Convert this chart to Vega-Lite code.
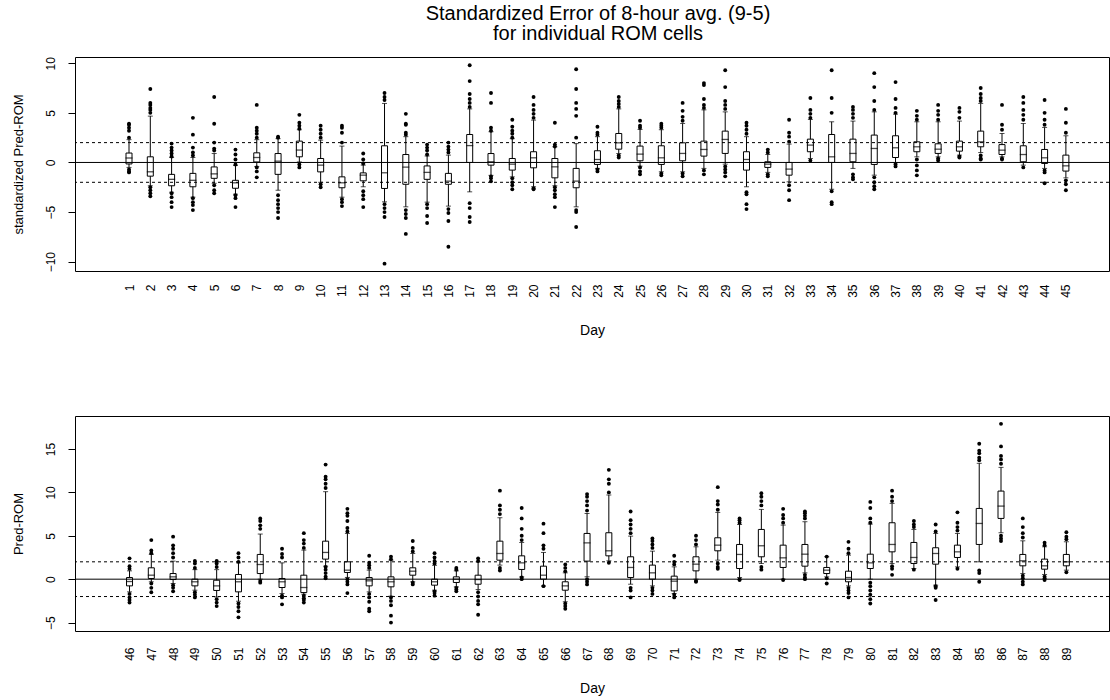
{
"$schema": "https://vega.github.io/schema/vega-lite/v6.json",
"background": "white",
"padding": {"left": 11, "top": 3, "right": 0, "bottom": 0},
"spacing": 77,
"config": {
  "font": "Liberation Sans",
  "view": {"stroke": "#000", "strokeWidth": 1},
  "axis": {"labelColor": "#000", "titleColor": "#000", "tickColor": "#000", "labelFont": "Liberation Sans", "titleFont": "Liberation Sans", "titleFontWeight": "normal", "grid": false, "domain": false, "labelOverlap": false, "labelFlush": false, "labelBound": false},
  "axisX": {"labelAngle": -90, "ticks": false, "tickSize": 0, "labelFontSize": 12, "titleFontSize": 14, "labelOverlap": false},
  "axisY": {"labelAngle": -90, "tickSize": 7, "labelFontSize": 12, "titleFontSize": 13, "labelPadding": 11, "titlePadding": 19}
},
"datasets": {
"box1": [
{"day":1,"lo":-0.5,"q1":-0.15,"med":0.45,"q3":0.95,"hi":2.3},
{"day":2,"lo":-2.35,"q1":-1.38,"med":-0.94,"q3":0.57,"hi":4.67},
{"day":3,"lo":-3.0,"q1":-2.35,"med":-1.7,"q3":-1.2,"hi":0.5},
{"day":4,"lo":-3.5,"q1":-2.45,"med":-1.8,"q3":-1.1,"hi":0.5},
{"day":5,"lo":-2.1,"q1":-1.6,"med":-1.15,"q3":-0.45,"hi":0.9},
{"day":6,"lo":-3.2,"q1":-2.6,"med":-2.05,"q3":-1.8,"hi":-0.3},
{"day":7,"lo":-0.4,"q1":0.05,"med":0.5,"q3":0.97,"hi":2.3},
{"day":8,"lo":-2.8,"q1":-1.2,"med":0.13,"q3":0.9,"hi":2.4},
{"day":9,"lo":0.05,"q1":0.57,"med":1.25,"q3":2.15,"hi":3.3},
{"day":10,"lo":-2.0,"q1":-0.95,"med":-0.27,"q3":0.4,"hi":2.25},
{"day":11,"lo":-3.5,"q1":-2.55,"med":-2.05,"q3":-1.45,"hi":1.65},
{"day":12,"lo":-2.45,"q1":-1.85,"med":-1.28,"q3":-1.05,"hi":-0.27},
{"day":13,"lo":-3.97,"q1":-2.62,"med":-1.04,"q3":1.68,"hi":5.95},
{"day":14,"lo":-4.47,"q1":-2.2,"med":-0.47,"q3":0.8,"hi":2.6},
{"day":15,"lo":-4.0,"q1":-1.7,"med":-1.0,"q3":-0.35,"hi":0.65},
{"day":16,"lo":-4.4,"q1":-2.2,"med":-1.88,"q3":-1.1,"hi":0.74},
{"day":17,"lo":-2.96,"q1":0.0,"med":1.7,"q3":2.82,"hi":5.4},
{"day":18,"lo":-1.3,"q1":-0.27,"med":0.07,"q3":0.9,"hi":3.1},
{"day":19,"lo":-1.45,"q1":-0.77,"med":-0.17,"q3":0.4,"hi":2.4},
{"day":20,"lo":-2.45,"q1":-0.54,"med":0.47,"q3":1.08,"hi":4.27},
{"day":21,"lo":-2.35,"q1":-1.55,"med":-0.44,"q3":0.4,"hi":1.58},
{"day":22,"lo":-4.47,"q1":-2.55,"med":-1.88,"q3":-0.6,"hi":1.9},
{"day":23,"lo":-0.6,"q1":-0.2,"med":0.3,"q3":1.18,"hi":2.6},
{"day":24,"lo":0.9,"q1":1.34,"med":1.98,"q3":2.92,"hi":5.4},
{"day":25,"lo":-0.37,"q1":0.17,"med":0.84,"q3":1.65,"hi":3.33},
{"day":26,"lo":-0.94,"q1":-0.2,"med":0.47,"q3":1.68,"hi":3.3},
{"day":27,"lo":-0.94,"q1":0.17,"med":0.91,"q3":1.98,"hi":3.93},
{"day":28,"lo":-0.6,"q1":0.64,"med":1.31,"q3":2.15,"hi":5.3},
{"day":29,"lo":-0.17,"q1":0.91,"med":2.32,"q3":3.16,"hi":5.1},
{"day":30,"lo":-2.45,"q1":-0.77,"med":0.3,"q3":1.08,"hi":2.6},
{"day":31,"lo":-1.0,"q1":-0.5,"med":-0.17,"q3":0.07,"hi":0.8},
{"day":32,"lo":-1.95,"q1":-1.28,"med":-0.67,"q3":0.0,"hi":1.85},
{"day":33,"lo":0.4,"q1":1.08,"med":1.75,"q3":2.35,"hi":4.34},
{"day":34,"lo":-2.7,"q1":0.0,"med":0.57,"q3":2.82,"hi":4.1},
{"day":35,"lo":-0.6,"q1":0.07,"med":0.91,"q3":2.35,"hi":4.17},
{"day":36,"lo":-1.28,"q1":-0.2,"med":1.41,"q3":2.76,"hi":5.1},
{"day":37,"lo":-0.03,"q1":0.5,"med":1.48,"q3":2.69,"hi":4.87},
{"day":38,"lo":0.57,"q1":1.08,"med":1.58,"q3":2.08,"hi":4.1},
{"day":39,"lo":0.57,"q1":0.91,"med":1.34,"q3":1.88,"hi":4.1},
{"day":40,"lo":0.74,"q1":1.14,"med":1.58,"q3":2.15,"hi":4.17},
{"day":41,"lo":1.0,"q1":1.58,"med":2.08,"q3":3.16,"hi":5.95},
{"day":42,"lo":0.57,"q1":0.8,"med":1.24,"q3":1.8,"hi":2.92},
{"day":43,"lo":-0.27,"q1":0.07,"med":0.8,"q3":1.68,"hi":3.93},
{"day":44,"lo":-0.6,"q1":-0.1,"med":0.47,"q3":1.31,"hi":3.53},
{"day":45,"lo":-1.55,"q1":-0.87,"med":-0.34,"q3":0.74,"hi":2.69}
],
"out1": [
{"day":1,"v":2.5},{"day":1,"v":3.2},{"day":1,"v":3.5},{"day":1,"v":3.8},{"day":1,"v":3.9},{"day":1,"v":-0.7},{"day":1,"v":-0.9},{"day":1,"v":-1.0},
{"day":2,"v":5.0},{"day":2,"v":5.3},{"day":2,"v":5.5},{"day":2,"v":5.8},{"day":2,"v":6.0},{"day":2,"v":7.4},{"day":2,"v":-2.5},{"day":2,"v":-2.8},{"day":2,"v":-3.1},{"day":2,"v":-3.4},
{"day":3,"v":0.6},{"day":3,"v":0.9},{"day":3,"v":1.2},{"day":3,"v":1.5},{"day":3,"v":1.9},{"day":3,"v":-3.1},{"day":3,"v":-3.5},{"day":3,"v":-4.0},{"day":3,"v":-4.5},
{"day":4,"v":0.7},{"day":4,"v":1.0},{"day":4,"v":1.5},{"day":4,"v":2.8},{"day":4,"v":4.5},{"day":4,"v":-3.6},{"day":4,"v":-4.0},{"day":4,"v":-4.3},{"day":4,"v":-4.8},
{"day":5,"v":1.2},{"day":5,"v":1.4},{"day":5,"v":2.0},{"day":5,"v":3.9},{"day":5,"v":6.6},{"day":5,"v":-2.3},{"day":5,"v":-2.8},{"day":5,"v":-3.1},
{"day":6,"v":-0.2},{"day":6,"v":0.3},{"day":6,"v":0.8},{"day":6,"v":1.3},{"day":6,"v":-3.3},{"day":6,"v":-3.6},{"day":6,"v":-4.5},
{"day":7,"v":2.5},{"day":7,"v":2.9},{"day":7,"v":3.2},{"day":7,"v":3.5},{"day":7,"v":5.8},{"day":7,"v":-0.5},{"day":7,"v":-0.9},{"day":7,"v":-1.5},
{"day":8,"v":2.5},{"day":8,"v":2.6},{"day":8,"v":-3.3},{"day":8,"v":-3.8},{"day":8,"v":-4.2},{"day":8,"v":-4.6},{"day":8,"v":-5.0},{"day":8,"v":-5.6},
{"day":9,"v":3.4},{"day":9,"v":3.7},{"day":9,"v":4.0},{"day":9,"v":4.8},{"day":9,"v":-0.2},{"day":9,"v":-0.5},
{"day":10,"v":2.5},{"day":10,"v":2.9},{"day":10,"v":3.3},{"day":10,"v":3.7},{"day":10,"v":-2.2},{"day":10,"v":-2.5},
{"day":11,"v":2.0},{"day":11,"v":3.0},{"day":11,"v":3.5},{"day":11,"v":3.7},{"day":11,"v":-3.7},{"day":11,"v":-4.0},{"day":11,"v":-4.4},
{"day":12,"v":-0.1},{"day":12,"v":0.3},{"day":12,"v":0.9},{"day":12,"v":-2.9},{"day":12,"v":-3.3},{"day":12,"v":-3.7},{"day":12,"v":-4.5},
{"day":13,"v":6.3},{"day":13,"v":6.6},{"day":13,"v":7.0},{"day":13,"v":-4.2},{"day":13,"v":-4.6},{"day":13,"v":-5.0},{"day":13,"v":-5.5},{"day":13,"v":-10.2},
{"day":14,"v":2.8},{"day":14,"v":3.0},{"day":14,"v":3.8},{"day":14,"v":3.9},{"day":14,"v":4.9},{"day":14,"v":-4.8},{"day":14,"v":-5.2},{"day":14,"v":-5.6},{"day":14,"v":-7.2},
{"day":15,"v":0.8},{"day":15,"v":1.2},{"day":15,"v":1.5},{"day":15,"v":1.8},{"day":15,"v":-4.2},{"day":15,"v":-4.6},{"day":15,"v":-5.4},{"day":15,"v":-6.1},
{"day":16,"v":1.0},{"day":16,"v":1.3},{"day":16,"v":1.6},{"day":16,"v":2.0},{"day":16,"v":-4.7},{"day":16,"v":-5.1},{"day":16,"v":-5.9},{"day":16,"v":-8.5},
{"day":17,"v":5.6},{"day":17,"v":6.0},{"day":17,"v":6.4},{"day":17,"v":6.9},{"day":17,"v":8.2},{"day":17,"v":9.8},{"day":17,"v":-4.1},{"day":17,"v":-4.6},{"day":17,"v":-5.5},{"day":17,"v":-6.0},
{"day":18,"v":3.2},{"day":18,"v":3.5},{"day":18,"v":6.0},{"day":18,"v":7.0},{"day":18,"v":-1.4},{"day":18,"v":-1.6},{"day":18,"v":-1.9},
{"day":19,"v":2.5},{"day":19,"v":2.9},{"day":19,"v":3.2},{"day":19,"v":3.6},{"day":19,"v":4.3},{"day":19,"v":-1.6},{"day":19,"v":-2.0},{"day":19,"v":-2.3},{"day":19,"v":-2.7},
{"day":20,"v":4.5},{"day":20,"v":4.9},{"day":20,"v":5.3},{"day":20,"v":5.8},{"day":20,"v":6.6},{"day":20,"v":-2.6},{"day":20,"v":-2.7},
{"day":21,"v":1.6},{"day":21,"v":1.8},{"day":21,"v":4.0},{"day":21,"v":-2.5},{"day":21,"v":-2.8},{"day":21,"v":-3.2},{"day":21,"v":-3.5},{"day":21,"v":-4.5},
{"day":22,"v":2.5},{"day":22,"v":4.7},{"day":22,"v":5.4},{"day":22,"v":6.0},{"day":22,"v":7.4},{"day":22,"v":9.4},{"day":22,"v":-4.8},{"day":22,"v":-5.0},{"day":22,"v":-6.5},
{"day":23,"v":2.8},{"day":23,"v":3.0},{"day":23,"v":3.6},{"day":23,"v":-0.7},{"day":23,"v":-0.9},
{"day":24,"v":5.6},{"day":24,"v":5.9},{"day":24,"v":6.2},{"day":24,"v":6.6},{"day":24,"v":0.7},{"day":24,"v":0.5},
{"day":25,"v":3.5},{"day":25,"v":3.7},{"day":25,"v":4.2},{"day":25,"v":-0.5},{"day":25,"v":-0.9},{"day":25,"v":-1.2},
{"day":26,"v":3.5},{"day":26,"v":3.7},{"day":26,"v":3.9},{"day":26,"v":-1.1},{"day":26,"v":-1.3},
{"day":27,"v":4.2},{"day":27,"v":4.6},{"day":27,"v":5.2},{"day":27,"v":6.0},{"day":27,"v":-1.1},{"day":27,"v":-1.4},
{"day":28,"v":5.5},{"day":28,"v":5.8},{"day":28,"v":6.4},{"day":28,"v":7.8},{"day":28,"v":8.0},{"day":28,"v":-0.8},{"day":28,"v":-1.2},
{"day":29,"v":5.4},{"day":29,"v":5.8},{"day":29,"v":6.2},{"day":29,"v":7.6},{"day":29,"v":9.3},{"day":29,"v":-0.4},{"day":29,"v":-0.7},{"day":29,"v":-1.0},{"day":29,"v":-1.4},
{"day":30,"v":2.9},{"day":30,"v":3.3},{"day":30,"v":3.7},{"day":30,"v":4.0},{"day":30,"v":-3.0},{"day":30,"v":-3.2},{"day":30,"v":-4.2},{"day":30,"v":-4.7},
{"day":31,"v":1.0},{"day":31,"v":1.3},{"day":31,"v":-1.2},{"day":31,"v":-1.4},
{"day":32,"v":2.1},{"day":32,"v":2.6},{"day":32,"v":3.0},{"day":32,"v":4.3},{"day":32,"v":-2.3},{"day":32,"v":-2.8},{"day":32,"v":-3.8},
{"day":33,"v":4.5},{"day":33,"v":4.9},{"day":33,"v":5.3},{"day":33,"v":6.5},{"day":33,"v":0.2},
{"day":34,"v":5.0},{"day":34,"v":6.5},{"day":34,"v":9.3},{"day":34,"v":-2.9},{"day":34,"v":-4.0},{"day":34,"v":-4.2},
{"day":35,"v":4.5},{"day":35,"v":4.9},{"day":35,"v":5.3},{"day":35,"v":5.6},{"day":35,"v":-1.2},{"day":35,"v":-1.5},{"day":35,"v":-1.7},
{"day":36,"v":5.3},{"day":36,"v":6.2},{"day":36,"v":7.6},{"day":36,"v":9.0},{"day":36,"v":-1.5},{"day":36,"v":-2.0},{"day":36,"v":-2.4},{"day":36,"v":-2.7},
{"day":37,"v":5.0},{"day":37,"v":5.5},{"day":37,"v":6.4},{"day":37,"v":8.1},{"day":37,"v":-0.2},{"day":37,"v":-0.4},
{"day":38,"v":4.3},{"day":38,"v":4.7},{"day":38,"v":5.2},{"day":38,"v":0.3},{"day":38,"v":-0.3},{"day":38,"v":-0.8},{"day":38,"v":-1.3},
{"day":39,"v":4.3},{"day":39,"v":4.8},{"day":39,"v":5.2},{"day":39,"v":5.8},{"day":39,"v":0.4},{"day":39,"v":0.2},
{"day":40,"v":4.5},{"day":40,"v":5.1},{"day":40,"v":5.5},{"day":40,"v":0.6},{"day":40,"v":0.5},
{"day":41,"v":6.2},{"day":41,"v":6.5},{"day":41,"v":6.9},{"day":41,"v":7.5},{"day":41,"v":0.7},{"day":41,"v":0.4},{"day":41,"v":0.3},
{"day":42,"v":3.3},{"day":42,"v":3.8},{"day":42,"v":5.8},{"day":42,"v":0.4},{"day":42,"v":0.3},
{"day":43,"v":4.3},{"day":43,"v":4.8},{"day":43,"v":5.3},{"day":43,"v":6.0},{"day":43,"v":6.6},{"day":43,"v":-0.5},
{"day":44,"v":3.8},{"day":44,"v":4.3},{"day":44,"v":5.0},{"day":44,"v":6.3},{"day":44,"v":-0.8},{"day":44,"v":-1.0},{"day":44,"v":-2.1},
{"day":45,"v":3.0},{"day":45,"v":4.0},{"day":45,"v":5.4},{"day":45,"v":-1.8},{"day":45,"v":-2.2},{"day":45,"v":-2.8}
],
"box2": [
{"day":46,"lo":-1.46,"q1":-0.77,"med":-0.27,"q3":0.19,"hi":0.96},
{"day":47,"lo":-0.3,"q1":0.08,"med":0.46,"q3":1.31,"hi":2.85},
{"day":48,"lo":-0.5,"q1":-0.04,"med":0.27,"q3":0.65,"hi":2.08},
{"day":49,"lo":-1.27,"q1":-0.77,"med":-0.3,"q3":0.0,"hi":1.1},
{"day":50,"lo":-2.04,"q1":-1.3,"med":-0.77,"q3":-0.12,"hi":1.1},
{"day":51,"lo":-2.54,"q1":-1.46,"med":-0.3,"q3":0.54,"hi":1.88},
{"day":52,"lo":0.0,"q1":0.65,"med":1.69,"q3":2.85,"hi":5.2},
{"day":53,"lo":-1.65,"q1":-0.96,"med":-0.3,"q3":0.08,"hi":1.88},
{"day":54,"lo":-1.73,"q1":-1.54,"med":-0.96,"q3":0.46,"hi":3.35},
{"day":55,"lo":1.5,"q1":2.31,"med":3.08,"q3":4.38,"hi":10.08},
{"day":56,"lo":0.2,"q1":0.77,"med":1.04,"q3":2.0,"hi":5.27},
{"day":57,"lo":-1.46,"q1":-0.77,"med":-0.19,"q3":0.19,"hi":1.04},
{"day":58,"lo":-1.96,"q1":-0.88,"med":-0.3,"q3":0.27,"hi":2.2},
{"day":59,"lo":-0.3,"q1":0.46,"med":0.92,"q3":1.31,"hi":2.96},
{"day":60,"lo":-1.27,"q1":-0.69,"med":-0.3,"q3":0.0,"hi":1.6},
{"day":61,"lo":-0.88,"q1":-0.38,"med":0.0,"q3":0.27,"hi":0.96},
{"day":62,"lo":-1.19,"q1":-0.58,"med":-0.04,"q3":0.46,"hi":2.0},
{"day":63,"lo":1.62,"q1":2.19,"med":2.96,"q3":4.38,"hi":7.08},
{"day":64,"lo":0.27,"q1":1.12,"med":1.88,"q3":2.69,"hi":4.23},
{"day":65,"lo":-0.77,"q1":0.0,"med":0.46,"q3":1.5,"hi":3.08},
{"day":66,"lo":-2.6,"q1":-1.27,"med":-0.77,"q3":-0.3,"hi":0.73},
{"day":67,"lo":0.27,"q1":2.08,"med":4.19,"q3":5.27,"hi":7.58},
{"day":68,"lo":2.12,"q1":2.69,"med":3.27,"q3":5.35,"hi":9.7},
{"day":69,"lo":-0.58,"q1":0.19,"med":1.35,"q3":2.58,"hi":4.96},
{"day":70,"lo":-0.77,"q1":0.0,"med":0.73,"q3":1.62,"hi":3.23},
{"day":71,"lo":-1.65,"q1":-1.35,"med":-0.23,"q3":0.35,"hi":1.42},
{"day":72,"lo":0.0,"q1":0.96,"med":1.73,"q3":2.58,"hi":3.73},
{"day":73,"lo":2.19,"q1":3.27,"med":3.92,"q3":4.77,"hi":7.69},
{"day":74,"lo":0.19,"q1":1.23,"med":2.85,"q3":4.0,"hi":6.3},
{"day":75,"lo":1.81,"q1":2.58,"med":3.85,"q3":5.73,"hi":8.04},
{"day":76,"lo":0.0,"q1":1.35,"med":2.46,"q3":3.92,"hi":6.23},
{"day":77,"lo":0.73,"q1":1.5,"med":2.88,"q3":4.0,"hi":6.62},
{"day":78,"lo":0.27,"q1":0.65,"med":1.04,"q3":1.35,"hi":2.58},
{"day":79,"lo":-0.77,"q1":-0.3,"med":0.19,"q3":0.92,"hi":2.77},
{"day":80,"lo":0.0,"q1":1.23,"med":1.88,"q3":2.88,"hi":6.35},
{"day":81,"lo":1.81,"q1":3.15,"med":4.0,"q3":6.5,"hi":8.73},
{"day":82,"lo":1.23,"q1":1.81,"med":2.5,"q3":4.23,"hi":5.73},
{"day":83,"lo":-0.69,"q1":1.73,"med":2.96,"q3":3.62,"hi":5.27},
{"day":84,"lo":1.42,"q1":2.5,"med":3.15,"q3":3.92,"hi":5.27},
{"day":85,"lo":2.0,"q1":4.0,"med":6.42,"q3":8.15,"hi":13.35},
{"day":86,"lo":5.35,"q1":7.0,"med":8.42,"q3":10.15,"hi":12.88},
{"day":87,"lo":0.65,"q1":1.54,"med":2.12,"q3":2.85,"hi":4.42},
{"day":88,"lo":0.54,"q1":1.15,"med":1.54,"q3":2.31,"hi":3.73},
{"day":89,"lo":1.04,"q1":1.54,"med":2.0,"q3":2.85,"hi":4.31}
],
"out2": [
{"day":46,"v":1.2},{"day":46,"v":1.5},{"day":46,"v":2.4},{"day":46,"v":-1.7},{"day":46,"v":-2.1},{"day":46,"v":-2.4},{"day":46,"v":-2.7},
{"day":47,"v":3.0},{"day":47,"v":3.3},{"day":47,"v":4.5},{"day":47,"v":-0.5},{"day":47,"v":-1.0},{"day":47,"v":-1.5},
{"day":48,"v":2.5},{"day":48,"v":3.0},{"day":48,"v":3.5},{"day":48,"v":3.9},{"day":48,"v":4.9},{"day":48,"v":-0.7},{"day":48,"v":-1.0},{"day":48,"v":-1.4},
{"day":49,"v":1.3},{"day":49,"v":1.8},{"day":49,"v":2.1},{"day":49,"v":-1.5},{"day":49,"v":-1.8},{"day":49,"v":-2.1},
{"day":50,"v":1.4},{"day":50,"v":1.8},{"day":50,"v":2.1},{"day":50,"v":-2.3},{"day":50,"v":-2.7},{"day":50,"v":-3.1},
{"day":51,"v":2.0},{"day":51,"v":2.5},{"day":51,"v":3.0},{"day":51,"v":-2.8},{"day":51,"v":-3.2},{"day":51,"v":-3.7},{"day":51,"v":-4.4},
{"day":52,"v":5.8},{"day":52,"v":6.2},{"day":52,"v":6.7},{"day":52,"v":7.0},{"day":52,"v":-0.2},{"day":52,"v":-0.4},
{"day":53,"v":2.5},{"day":53,"v":2.9},{"day":53,"v":3.5},{"day":53,"v":-1.9},{"day":53,"v":-2.1},{"day":53,"v":-2.9},
{"day":54,"v":3.6},{"day":54,"v":4.1},{"day":54,"v":4.5},{"day":54,"v":5.3},{"day":54,"v":-1.9},{"day":54,"v":-2.2},{"day":54,"v":-2.4},{"day":54,"v":-2.7},
{"day":55,"v":10.5},{"day":55,"v":11.0},{"day":55,"v":11.5},{"day":55,"v":11.8},{"day":55,"v":13.2},{"day":55,"v":1.4},{"day":55,"v":1.1},{"day":55,"v":0.7},{"day":55,"v":0.3},{"day":55,"v":0.1},
{"day":56,"v":5.5},{"day":56,"v":5.9},{"day":56,"v":6.7},{"day":56,"v":7.3},{"day":56,"v":7.6},{"day":56,"v":8.1},{"day":56,"v":0.0},{"day":56,"v":-0.3},{"day":56,"v":-0.6},{"day":56,"v":-1.6},
{"day":57,"v":1.3},{"day":57,"v":1.6},{"day":57,"v":1.9},{"day":57,"v":2.7},{"day":57,"v":-1.7},{"day":57,"v":-2.1},{"day":57,"v":-2.6},{"day":57,"v":-3.4},{"day":57,"v":-3.7},
{"day":58,"v":2.3},{"day":58,"v":2.6},{"day":58,"v":-2.1},{"day":58,"v":-2.5},{"day":58,"v":-3.0},{"day":58,"v":-4.2},{"day":58,"v":-5.0},
{"day":59,"v":3.2},{"day":59,"v":3.6},{"day":59,"v":4.4},{"day":59,"v":-0.4},{"day":59,"v":-0.6},
{"day":60,"v":1.8},{"day":60,"v":2.1},{"day":60,"v":2.5},{"day":60,"v":3.0},{"day":60,"v":-1.4},{"day":60,"v":-1.6},{"day":60,"v":-1.9},
{"day":61,"v":1.1},{"day":61,"v":1.3},{"day":61,"v":-1.0},{"day":61,"v":-1.2},{"day":61,"v":-1.4},
{"day":62,"v":2.1},{"day":62,"v":2.4},{"day":62,"v":-1.5},{"day":62,"v":-2.0},{"day":62,"v":-2.5},{"day":62,"v":-2.9},{"day":62,"v":-4.1},
{"day":63,"v":7.5},{"day":63,"v":8.0},{"day":63,"v":8.5},{"day":63,"v":10.2},{"day":63,"v":1.3},{"day":63,"v":1.0},
{"day":64,"v":4.5},{"day":64,"v":5.0},{"day":64,"v":5.8},{"day":64,"v":7.0},{"day":64,"v":8.2},{"day":64,"v":0.2},{"day":64,"v":0.0},
{"day":65,"v":3.5},{"day":65,"v":3.9},{"day":65,"v":5.3},{"day":65,"v":6.4},{"day":65,"v":-0.8},
{"day":66,"v":0.9},{"day":66,"v":1.3},{"day":66,"v":1.7},{"day":66,"v":-2.8},{"day":66,"v":-3.1},{"day":66,"v":-3.4},
{"day":67,"v":7.9},{"day":67,"v":8.5},{"day":67,"v":9.0},{"day":67,"v":9.5},{"day":67,"v":9.8},{"day":67,"v":0.0},{"day":67,"v":-0.3},{"day":67,"v":-0.6},
{"day":68,"v":10.0},{"day":68,"v":11.0},{"day":68,"v":11.5},{"day":68,"v":12.6},{"day":68,"v":1.9},
{"day":69,"v":5.3},{"day":69,"v":5.8},{"day":69,"v":6.3},{"day":69,"v":6.8},{"day":69,"v":7.8},{"day":69,"v":-1.0},{"day":69,"v":-1.3},{"day":69,"v":-2.1},
{"day":70,"v":3.6},{"day":70,"v":4.0},{"day":70,"v":4.4},{"day":70,"v":4.7},{"day":70,"v":-1.0},{"day":70,"v":-1.3},{"day":70,"v":-1.7},
{"day":71,"v":1.7},{"day":71,"v":2.0},{"day":71,"v":2.7},{"day":71,"v":-1.8},{"day":71,"v":-2.1},
{"day":72,"v":4.0},{"day":72,"v":4.5},{"day":72,"v":5.0},{"day":72,"v":-0.2},{"day":72,"v":-0.3},
{"day":73,"v":8.0},{"day":73,"v":8.6},{"day":73,"v":9.0},{"day":73,"v":10.6},{"day":73,"v":1.8},{"day":73,"v":1.4},{"day":73,"v":1.2},
{"day":74,"v":6.5},{"day":74,"v":6.8},{"day":74,"v":7.0},{"day":74,"v":0.0},{"day":74,"v":-0.1},
{"day":75,"v":8.5},{"day":75,"v":9.0},{"day":75,"v":9.5},{"day":75,"v":9.9},{"day":75,"v":1.4},{"day":75,"v":1.1},
{"day":76,"v":6.5},{"day":76,"v":7.0},{"day":76,"v":7.4},{"day":76,"v":8.1},{"day":76,"v":-0.1},
{"day":77,"v":7.0},{"day":77,"v":7.3},{"day":77,"v":7.6},{"day":77,"v":7.8},{"day":77,"v":0.5},{"day":77,"v":0.2},{"day":77,"v":0.0},
{"day":78,"v":2.6},{"day":78,"v":0.1},{"day":78,"v":-0.5},
{"day":79,"v":3.0},{"day":79,"v":3.5},{"day":79,"v":4.3},{"day":79,"v":-1.0},{"day":79,"v":-1.3},{"day":79,"v":-1.6},{"day":79,"v":-2.1},
{"day":80,"v":6.5},{"day":80,"v":7.0},{"day":80,"v":8.2},{"day":80,"v":8.9},{"day":80,"v":-0.4},{"day":80,"v":-0.8},{"day":80,"v":-1.3},{"day":80,"v":-1.8},{"day":80,"v":-2.3},{"day":80,"v":-2.8},
{"day":81,"v":9.0},{"day":81,"v":9.5},{"day":81,"v":10.2},{"day":81,"v":1.5},{"day":81,"v":1.2},{"day":81,"v":0.5},
{"day":82,"v":6.0},{"day":82,"v":6.3},{"day":82,"v":6.7},{"day":82,"v":1.1},
{"day":83,"v":5.5},{"day":83,"v":6.3},{"day":83,"v":-0.8},{"day":83,"v":-1.0},{"day":83,"v":-2.4},
{"day":84,"v":5.6},{"day":84,"v":6.0},{"day":84,"v":6.5},{"day":84,"v":7.7},{"day":84,"v":1.2},
{"day":85,"v":13.7},{"day":85,"v":14.0},{"day":85,"v":14.5},{"day":85,"v":14.8},{"day":85,"v":15.6},{"day":85,"v":1.0},{"day":85,"v":0.7},{"day":85,"v":-0.3},
{"day":86,"v":13.3},{"day":86,"v":13.8},{"day":86,"v":14.2},{"day":86,"v":15.3},{"day":86,"v":17.9},{"day":86,"v":5.0},{"day":86,"v":4.7},{"day":86,"v":4.4},
{"day":87,"v":4.8},{"day":87,"v":5.3},{"day":87,"v":6.0},{"day":87,"v":7.0},{"day":87,"v":0.4},{"day":87,"v":0.1},{"day":87,"v":-0.3},{"day":87,"v":-0.6},
{"day":88,"v":3.9},{"day":88,"v":4.2},{"day":88,"v":0.3},{"day":88,"v":0.1},{"day":88,"v":-0.1},
{"day":89,"v":4.6},{"day":89,"v":4.9},{"day":89,"v":5.4},{"day":89,"v":0.8}
]
},
"vconcat": [
{
  "width": 1034, "height": 214,
  "title": {"text": ["Standardized Error of 8-hour avg. (9-5)", "for individual ROM cells"], "fontSize": 20, "fontWeight": "normal", "font": "Liberation Sans", "color": "#000", "anchor": "middle", "frame": "group", "dx": 6, "offset": 13, "lineHeight": 20},
  "layer": [
    {"data": {"name": "box1"}, "mark": {"type": "rule", "color": "#000", "strokeWidth": 1},
     "encoding": {
       "x": {"field": "day", "type": "quantitative", "scale": {"domain": [-1.302, 46.79], "nice": false, "zero": false},
             "axis": {"values": [1,2,3,4,5,6,7,8,9,10,11,12,13,14,15,16,17,18,19,20,21,22,23,24,25,26,27,28,29,30,31,32,33,34,35,36,37,38,39,40,41,42,43,44,45], "labelOverlap": false, "labelPadding": 13, "title": "Day", "titlePadding": 26}},
       "y": {"field": "lo", "type": "quantitative", "scale": {"domain": [-10.94, 10.63], "nice": false, "zero": false},
             "axis": {"values": [-10,-5,0,5,10], "title": "standardized Pred-ROM", "labelAngle": -90, "tickSize": 7, "labelPadding": 11, "titlePadding": 19}},
       "y2": {"field": "hi"}}},
    {"data": {"name": "box1"}, "mark": {"type": "bar", "width": 6, "fill": "white", "stroke": "#000", "strokeWidth": 1},
     "encoding": {"x": {"field": "day", "type": "quantitative", "axis": {"values": [1,2,3,4,5,6,7,8,9,10,11,12,13,14,15,16,17,18,19,20,21,22,23,24,25,26,27,28,29,30,31,32,33,34,35,36,37,38,39,40,41,42,43,44,45], "labelOverlap": false, "labelPadding": 13, "title": "Day", "titlePadding": 26}},
                  "y": {"field": "q1", "type": "quantitative", "axis": {"values": [-10,-5,0,5,10], "title": "standardized Pred-ROM", "labelAngle": -90, "tickSize": 7, "labelPadding": 11, "titlePadding": 19}}, "y2": {"field": "q3"}}},
    {"data": {"name": "box1"}, "mark": {"type": "tick", "orient": "horizontal", "size": 7, "thickness": 1.3, "color": "#000"},
     "encoding": {"x": {"field": "day", "type": "quantitative", "axis": {"values": [1,2,3,4,5,6,7,8,9,10,11,12,13,14,15,16,17,18,19,20,21,22,23,24,25,26,27,28,29,30,31,32,33,34,35,36,37,38,39,40,41,42,43,44,45], "labelOverlap": false, "labelPadding": 13, "title": "Day", "titlePadding": 26}},
                  "y": {"field": "med", "type": "quantitative", "axis": {"values": [-10,-5,0,5,10], "title": "standardized Pred-ROM", "labelAngle": -90, "tickSize": 7, "labelPadding": 11, "titlePadding": 19}}}},
    {"data": {"name": "box1"}, "mark": {"type": "tick", "orient": "horizontal", "size": 5, "thickness": 1, "color": "#000"},
     "encoding": {"x": {"field": "day", "type": "quantitative", "axis": {"values": [1,2,3,4,5,6,7,8,9,10,11,12,13,14,15,16,17,18,19,20,21,22,23,24,25,26,27,28,29,30,31,32,33,34,35,36,37,38,39,40,41,42,43,44,45], "labelOverlap": false, "labelPadding": 13, "title": "Day", "titlePadding": 26}},
                  "y": {"field": "hi", "type": "quantitative", "axis": {"values": [-10,-5,0,5,10], "title": "standardized Pred-ROM", "labelAngle": -90, "tickSize": 7, "labelPadding": 11, "titlePadding": 19}}}},
    {"data": {"name": "box1"}, "mark": {"type": "tick", "orient": "horizontal", "size": 5, "thickness": 1, "color": "#000"},
     "encoding": {"x": {"field": "day", "type": "quantitative", "axis": {"values": [1,2,3,4,5,6,7,8,9,10,11,12,13,14,15,16,17,18,19,20,21,22,23,24,25,26,27,28,29,30,31,32,33,34,35,36,37,38,39,40,41,42,43,44,45], "labelOverlap": false, "labelPadding": 13, "title": "Day", "titlePadding": 26}},
                  "y": {"field": "lo", "type": "quantitative", "axis": {"values": [-10,-5,0,5,10], "title": "standardized Pred-ROM", "labelAngle": -90, "tickSize": 7, "labelPadding": 11, "titlePadding": 19}}}},
    {"data": {"name": "out1"}, "mark": {"type": "circle", "size": 15, "color": "#000", "opacity": 1},
     "encoding": {"x": {"field": "day", "type": "quantitative", "axis": {"values": [1,2,3,4,5,6,7,8,9,10,11,12,13,14,15,16,17,18,19,20,21,22,23,24,25,26,27,28,29,30,31,32,33,34,35,36,37,38,39,40,41,42,43,44,45], "labelOverlap": false, "labelPadding": 13, "title": "Day", "titlePadding": 26}},
                  "y": {"field": "v", "type": "quantitative", "axis": {"values": [-10,-5,0,5,10], "title": "standardized Pred-ROM", "labelAngle": -90, "tickSize": 7, "labelPadding": 11, "titlePadding": 19}}}},
    {"data": {"values": [{}]}, "mark": {"type": "rule", "color": "#000", "strokeWidth": 1}, "encoding": {"y": {"datum": 0, "type": "quantitative", "axis": {"values": [-10,-5,0,5,10], "title": "standardized Pred-ROM", "labelAngle": -90, "tickSize": 7, "labelPadding": 11, "titlePadding": 19}}}},
    {"data": {"values": [{}]}, "mark": {"type": "rule", "color": "#000", "strokeWidth": 1, "strokeDash": [3, 3]}, "encoding": {"y": {"datum": 2, "type": "quantitative", "axis": {"values": [-10,-5,0,5,10], "title": "standardized Pred-ROM", "labelAngle": -90, "tickSize": 7, "labelPadding": 11, "titlePadding": 19}}}},
    {"data": {"values": [{}]}, "mark": {"type": "rule", "color": "#000", "strokeWidth": 1, "strokeDash": [3, 3]}, "encoding": {"y": {"datum": -2, "type": "quantitative", "axis": {"values": [-10,-5,0,5,10], "title": "standardized Pred-ROM", "labelAngle": -90, "tickSize": 7, "labelPadding": 11, "titlePadding": 19}}}}
  ]
},
{
  "width": 1034, "height": 215,
  "layer": [
    {"data": {"name": "box2"}, "mark": {"type": "rule", "color": "#000", "strokeWidth": 1},
     "encoding": {
       "x": {"field": "day", "type": "quantitative", "scale": {"domain": [43.727, 90.727], "nice": false, "zero": false},
             "axis": {"values": [46,47,48,49,50,51,52,53,54,55,56,57,58,59,60,61,62,63,64,65,66,67,68,69,70,71,72,73,74,75,76,77,78,79,80,81,82,83,84,85,86,87,88,89], "labelOverlap": false, "labelPadding": 16, "title": "Day", "titlePadding": 21}},
       "y": {"field": "lo", "type": "quantitative", "scale": {"domain": [-5.97, 18.8], "nice": false, "zero": false},
             "axis": {"values": [-5,0,5,10,15], "title": "Pred-ROM", "labelAngle": -90, "tickSize": 7, "labelPadding": 11, "titlePadding": 19}},
       "y2": {"field": "hi"}}},
    {"data": {"name": "box2"}, "mark": {"type": "bar", "width": 6, "fill": "white", "stroke": "#000", "strokeWidth": 1},
     "encoding": {"x": {"field": "day", "type": "quantitative", "axis": {"values": [46,47,48,49,50,51,52,53,54,55,56,57,58,59,60,61,62,63,64,65,66,67,68,69,70,71,72,73,74,75,76,77,78,79,80,81,82,83,84,85,86,87,88,89], "labelOverlap": false, "labelPadding": 16, "title": "Day", "titlePadding": 21}},
                  "y": {"field": "q1", "type": "quantitative", "axis": {"values": [-5,0,5,10,15], "title": "Pred-ROM", "labelAngle": -90, "tickSize": 7, "labelPadding": 11, "titlePadding": 19}}, "y2": {"field": "q3"}}},
    {"data": {"name": "box2"}, "mark": {"type": "tick", "orient": "horizontal", "size": 7, "thickness": 1.3, "color": "#000"},
     "encoding": {"x": {"field": "day", "type": "quantitative", "axis": {"values": [46,47,48,49,50,51,52,53,54,55,56,57,58,59,60,61,62,63,64,65,66,67,68,69,70,71,72,73,74,75,76,77,78,79,80,81,82,83,84,85,86,87,88,89], "labelOverlap": false, "labelPadding": 16, "title": "Day", "titlePadding": 21}},
                  "y": {"field": "med", "type": "quantitative", "axis": {"values": [-5,0,5,10,15], "title": "Pred-ROM", "labelAngle": -90, "tickSize": 7, "labelPadding": 11, "titlePadding": 19}}}},
    {"data": {"name": "box2"}, "mark": {"type": "tick", "orient": "horizontal", "size": 5, "thickness": 1, "color": "#000"},
     "encoding": {"x": {"field": "day", "type": "quantitative", "axis": {"values": [46,47,48,49,50,51,52,53,54,55,56,57,58,59,60,61,62,63,64,65,66,67,68,69,70,71,72,73,74,75,76,77,78,79,80,81,82,83,84,85,86,87,88,89], "labelOverlap": false, "labelPadding": 16, "title": "Day", "titlePadding": 21}},
                  "y": {"field": "hi", "type": "quantitative", "axis": {"values": [-5,0,5,10,15], "title": "Pred-ROM", "labelAngle": -90, "tickSize": 7, "labelPadding": 11, "titlePadding": 19}}}},
    {"data": {"name": "box2"}, "mark": {"type": "tick", "orient": "horizontal", "size": 5, "thickness": 1, "color": "#000"},
     "encoding": {"x": {"field": "day", "type": "quantitative", "axis": {"values": [46,47,48,49,50,51,52,53,54,55,56,57,58,59,60,61,62,63,64,65,66,67,68,69,70,71,72,73,74,75,76,77,78,79,80,81,82,83,84,85,86,87,88,89], "labelOverlap": false, "labelPadding": 16, "title": "Day", "titlePadding": 21}},
                  "y": {"field": "lo", "type": "quantitative", "axis": {"values": [-5,0,5,10,15], "title": "Pred-ROM", "labelAngle": -90, "tickSize": 7, "labelPadding": 11, "titlePadding": 19}}}},
    {"data": {"name": "out2"}, "mark": {"type": "circle", "size": 15, "color": "#000", "opacity": 1},
     "encoding": {"x": {"field": "day", "type": "quantitative", "axis": {"values": [46,47,48,49,50,51,52,53,54,55,56,57,58,59,60,61,62,63,64,65,66,67,68,69,70,71,72,73,74,75,76,77,78,79,80,81,82,83,84,85,86,87,88,89], "labelOverlap": false, "labelPadding": 16, "title": "Day", "titlePadding": 21}},
                  "y": {"field": "v", "type": "quantitative", "axis": {"values": [-5,0,5,10,15], "title": "Pred-ROM", "labelAngle": -90, "tickSize": 7, "labelPadding": 11, "titlePadding": 19}}}},
    {"data": {"values": [{}]}, "mark": {"type": "rule", "color": "#000", "strokeWidth": 1}, "encoding": {"y": {"datum": 0, "type": "quantitative", "axis": {"values": [-5,0,5,10,15], "title": "Pred-ROM", "labelAngle": -90, "tickSize": 7, "labelPadding": 11, "titlePadding": 19}}}},
    {"data": {"values": [{}]}, "mark": {"type": "rule", "color": "#000", "strokeWidth": 1, "strokeDash": [3, 3]}, "encoding": {"y": {"datum": 2, "type": "quantitative", "axis": {"values": [-5,0,5,10,15], "title": "Pred-ROM", "labelAngle": -90, "tickSize": 7, "labelPadding": 11, "titlePadding": 19}}}},
    {"data": {"values": [{}]}, "mark": {"type": "rule", "color": "#000", "strokeWidth": 1, "strokeDash": [3, 3]}, "encoding": {"y": {"datum": -2, "type": "quantitative", "axis": {"values": [-5,0,5,10,15], "title": "Pred-ROM", "labelAngle": -90, "tickSize": 7, "labelPadding": 11, "titlePadding": 19}}}}
  ]
}
]
}
